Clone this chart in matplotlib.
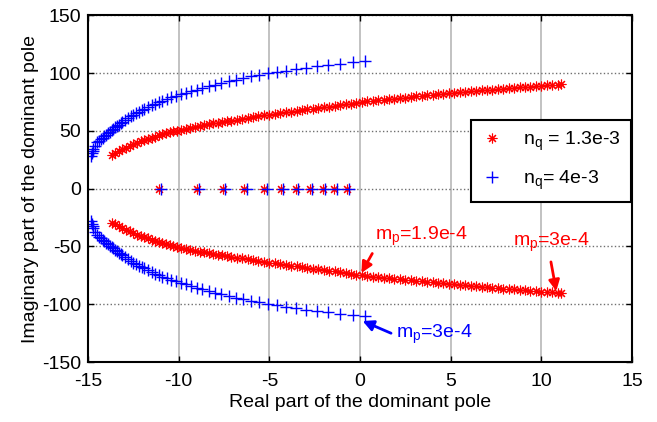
import numpy as np
import matplotlib
matplotlib.use('Agg')
import matplotlib.pyplot as plt

# === Fonts ===
plt.rcParams['font.family'] = ['Liberation Sans', 'DejaVu Sans']
plt.rcParams['mathtext.fontset'] = 'custom'
plt.rcParams['mathtext.rm'] = 'Liberation Sans'
plt.rcParams['mathtext.it'] = 'Liberation Sans'
plt.rcParams['mathtext.default'] = 'regular'
plt.rcParams['axes.unicode_minus'] = False

# === Data (upper half of each locus, lower half is the conjugate) ===
red_x = [-13.7, -13.5, -13.3, -13.1, -12.9, -12.7, -12.5, -12.3, -12.1, -11.9,
         -11.7, -11.5, -11.3, -11.1, -10.9, -10.7, -10.5, -10.3, -10.1, -9.85,
         -9.6, -9.35, -9.1, -8.85, -8.6, -8.35, -8.1, -7.85, -7.6, -7.35,
         -7.1, -6.8, -6.5, -6.2, -5.9, -5.6, -5.3, -5.0, -4.7, -4.4,
         -4.1, -3.8, -3.5, -3.2, -2.9, -2.6, -2.3, -2.0, -1.7, -1.4,
         -1.1, -0.8, -0.5, -0.2, 0.1, 0.4, 0.7, 1.0, 1.3, 1.6,
         1.9, 2.2, 2.5, 2.8, 3.1, 3.4, 3.7, 4.0, 4.3, 4.6,
         4.9, 5.2, 5.5, 5.8, 6.1, 6.4, 6.7, 7.0, 7.3, 7.6,
         7.9, 8.2, 8.5, 8.8, 9.1, 9.4, 9.7, 10.0, 10.3, 10.6,
         10.9, 11.1]
red_y = [29.5, 31.0, 32.5, 34.0, 35.5, 36.9, 38.3, 39.7, 40.8, 41.9,
         43.0, 44.0, 45.0, 46.0, 47.0, 47.9, 48.7, 49.5, 50.2, 51.0,
         51.9, 52.8, 53.7, 54.5, 55.2, 55.9, 56.6, 57.1, 57.6, 58.2,
         58.8, 59.6, 60.3, 61.0, 61.8, 62.5, 63.3, 64.0, 64.7, 65.3,
         66.0, 66.6, 67.3, 67.9, 68.5, 69.1, 69.7, 70.3, 71.0, 71.6,
         72.3, 73.0, 73.6, 74.3, 74.9, 75.4, 76.0, 76.5, 77.0, 77.4,
         77.9, 78.3, 78.8, 79.2, 79.7, 80.1, 80.6, 81.0, 81.5, 81.9,
         82.4, 82.8, 83.3, 83.7, 84.1, 84.5, 84.9, 85.3, 85.7, 86.0,
         86.4, 86.8, 87.1, 87.5, 87.9, 88.3, 88.6, 89.0, 89.3, 89.6,
         89.9, 90.1]

blue_x = [-14.85, -14.8, -14.75, -14.7, -14.6, -14.5, -14.4, -14.3, -14.2, -14.1,
          -14.0, -13.9, -13.8, -13.7, -13.6, -13.5, -13.4, -13.3, -13.2, -13.1,
          -12.95, -12.8, -12.65, -12.5, -12.35, -12.2, -12.05, -11.9, -11.7, -11.5,
          -11.3, -11.1, -10.9, -10.65, -10.4, -10.15, -9.9, -9.6, -9.3, -9.0,
          -8.7, -8.35, -8.0, -7.65, -7.25, -6.85, -6.45, -6.0, -5.55, -5.1,
          -4.6, -4.1, -3.55, -3.0, -2.4, -1.75, -1.1, -0.4, 0.3]
blue_y = [28.0, 30.5, 32.5, 34.3, 37.3, 40.0, 41.4, 42.8, 44.1, 45.4,
          46.7, 48.0, 49.3, 50.5, 51.7, 52.9, 54.1, 55.3, 56.5, 57.7,
          59.4, 60.9, 62.4, 63.9, 65.3, 66.7, 67.9, 69.0, 70.5, 72.0,
          73.4, 74.7, 76.0, 77.5, 78.9, 80.2, 81.5, 82.9, 84.3, 85.6,
          87.0, 88.5, 90.0, 91.4, 92.9, 94.3, 95.5, 97.0, 98.4, 99.7,
          100.9, 102.1, 103.4, 104.6, 105.8, 107.0, 108.1, 109.2, 110.0]

# real poles
red_real_x = [-11.08, -9.0, -7.57, -6.38, -5.28, -4.36, -3.53, -2.76, -2.06, -1.42, -0.73]
blue_real_x = [-10.95, -8.87, -7.44, -6.25, -5.15, -4.23, -3.4, -2.63, -1.93, -1.29, -0.6]

labels = ['n$_q$ = 1.3e-3', 'n$_q$= 4e-3']

RED = '#ff0000'
BLUE = '#0000ff'
star = (8, 2, 0)

fig = plt.figure(figsize=(6.57, 4.22), dpi=100)
ax = fig.add_axes([0.134, 0.142, 0.828, 0.822])

rx = np.array(red_x)
ry = np.array(red_y)
bx = np.array(blue_x)
by = np.array(blue_y)

h_red, = ax.plot(np.concatenate([rx, rx, red_real_x]),
                 np.concatenate([ry, -ry, np.zeros(len(red_real_x))]),
                 ls='none', marker=star, ms=7, mew=0.8, color=RED)
h_blue, = ax.plot(np.concatenate([bx, bx, blue_real_x]),
                  np.concatenate([by, -by, np.zeros(len(blue_real_x))]),
                  ls='none', marker='+', ms=8, mew=1.0, color=BLUE)

ax.set_xlim(-15, 15)
ax.set_ylim(-150, 150)
ax.set_xticks(np.arange(-15, 16, 5))
ax.set_yticks(np.arange(-150, 151, 50))
ax.xaxis.grid(True, color='#b8b8b8', ls='-', lw=1.2)
ax.yaxis.grid(True, color='#707070', ls=':', lw=1.0)
ax.tick_params(direction='in', top=True, right=True, length=4, width=1,
               labelsize=14, colors='black')
ax.tick_params(axis='x', pad=8)
ax.tick_params(axis='y', pad=5)
for s in ax.spines.values():
    s.set_linewidth(1.5)

ax.set_xlabel('Real part of the dominant pole', fontsize=14, labelpad=3)
ax.set_ylabel('Imaginary part of the dominant pole', fontsize=14, labelpad=2)

# annotations
ax.annotate('', xy=(0.0, -75), xytext=(0.75, -54),
            arrowprops=dict(arrowstyle='-|>', color=RED, lw=2, mutation_scale=16))
ax.text(0.85, -44, 'm$_p$=1.9e-4', color=RED, fontsize=14)
ax.annotate('', xy=(10.85, -91), xytext=(10.5, -61),
            arrowprops=dict(arrowstyle='-|>', color=RED, lw=2, mutation_scale=16))
ax.text(8.45, -50, 'm$_p$=3e-4', color=RED, fontsize=14)
ax.annotate('', xy=(0.0, -113.5), xytext=(1.85, -126),
            arrowprops=dict(arrowstyle='-|>', color=BLUE, lw=2, mutation_scale=16))
ax.text(2.0, -129, 'm$_p$=3e-4', color=BLUE, fontsize=14)

leg = ax.legend([h_red, h_blue], labels, loc='upper right',
                bbox_to_anchor=(0.998, 0.697), fontsize=14, fancybox=False,
                framealpha=1, edgecolor='black', handlelength=1.2,
                handletextpad=1.0, borderpad=0.5, labelspacing=0.8,
                borderaxespad=0)
leg.get_frame().set_linewidth(1.5)

fig.savefig('out.png', dpi=100)
